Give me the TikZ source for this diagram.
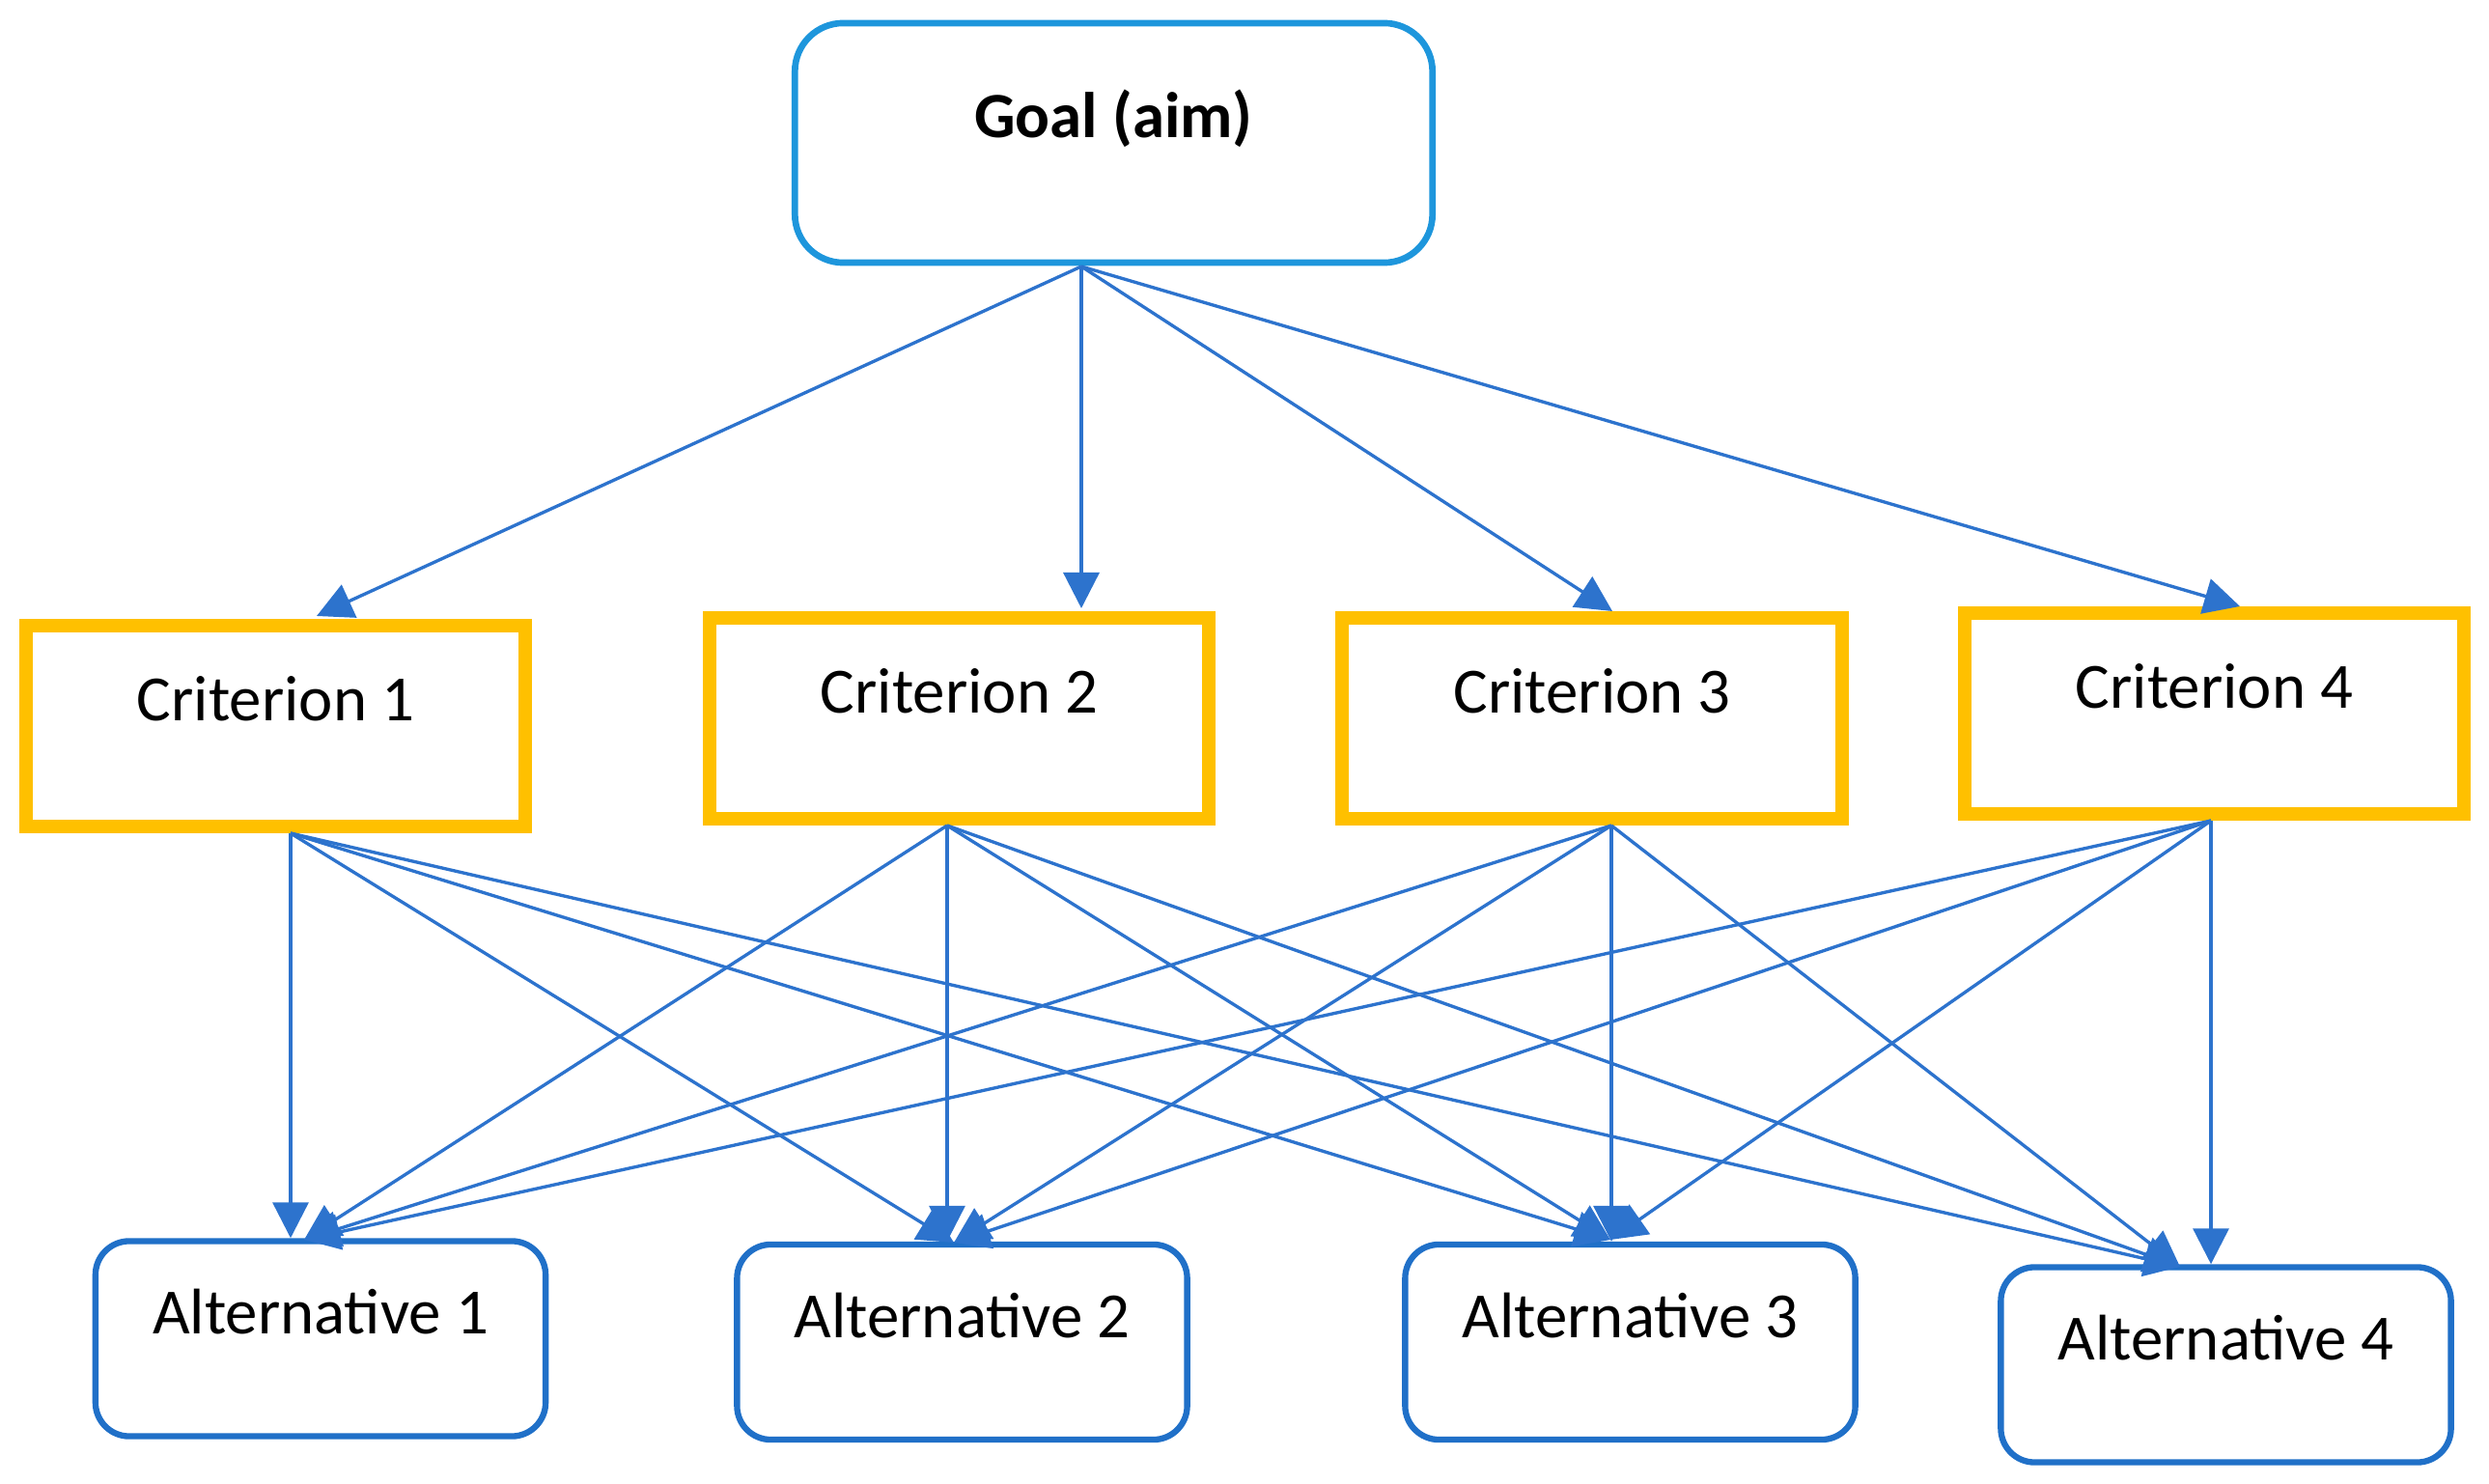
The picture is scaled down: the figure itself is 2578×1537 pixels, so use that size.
\documentclass[tikz,border=0pt]{standalone}
\usepackage{fontspec}
\setmainfont{Carlito}
\usepackage{tikz}
\usetikzlibrary{arrows.meta}
\definecolor{goalblue}{RGB}{30,150,220}
\definecolor{altblue}{RGB}{32,112,200}
\definecolor{arrowblue}{RGB}{45,115,205}
\definecolor{critorange}{RGB}{255,192,0}

\begin{document}
\begin{tikzpicture}[x=0.01cm, y=-0.01cm,
    every node/.style={font=\fontsize{19}{23}\selectfont, text height=0.5cm, text depth=0.6cm, inner sep=0pt},
    goalbox/.style={draw=goalblue, line width=1.9pt, rounded corners=0.5cm, minimum width=6.6cm, minimum height=2.48cm},
    critbox/.style={draw=critorange, line width=4pt, minimum width=5.17cm, minimum height=2.08cm},
    altbox/.style={draw=altblue, line width=1.8pt, rounded corners=0.35cm, minimum width=4.66cm, minimum height=2.02cm},
    arr/.style={arrowblue, line width=0.95pt, -{Triangle[length=0.37cm,width=0.37cm]}}]
    \useasboundingbox (0,0) rectangle (2578,1537);

    \node[goalbox, font=\fontsize{19}{23}\selectfont\bfseries] (goal) at (1153.5,148) {Goal (aim)};

    \node[critbox] (c1) at (285.5,752) {Criterion 1};
    \node[critbox] (c2) at (993.5,744) {Criterion 2};
    \node[critbox] (c3) at (1649,744) {Criterion 3};
    \node[critbox] (c4) at (2293.5,739) {Criterion 4};

    \node[altbox] (a1) at (332,1386.5) {Alternative 1};
    \node[altbox] (a2) at (996.5,1390) {Alternative 2};
    \node[altbox] (a3) at (1688.5,1390) {Alternative 3};
    \node[altbox] (a4) at (2305.5,1413.5) {Alternative 4};

    % connector end points
    \coordinate (goal-out) at (1120,276);
    \coordinate (c1-in) at (328,638);
    \coordinate (c2-in) at (1120,630);
    \coordinate (c3-in) at (1670,633);
    \coordinate (c4-in) at (2320,628);
    \coordinate (c1-out) at (301,863);
    \coordinate (c2-out) at (981,855);
    \coordinate (c3-out) at (1669,855);
    \coordinate (c4-out) at (2290,850);
    \coordinate (a1-in) at (315,1284);
    \coordinate (a2-in) at (988,1287);
    \coordinate (a3-in) at (1668,1284);
    \coordinate (a4-in) at (2258,1312);

    \foreach \i in {1,...,4}
        \draw[arr] (goal-out) -- (c\i-in);

    \foreach \i in {1,...,4}
        \foreach \j in {1,...,4}{
            \ifnum\i=\j
                \draw[arr] (c\i-out) -- (c\i-out |- a\j.north);
            \else
                \draw[arr] (c\i-out) -- (a\j-in);
            \fi
        }
\end{tikzpicture}
\end{document}
